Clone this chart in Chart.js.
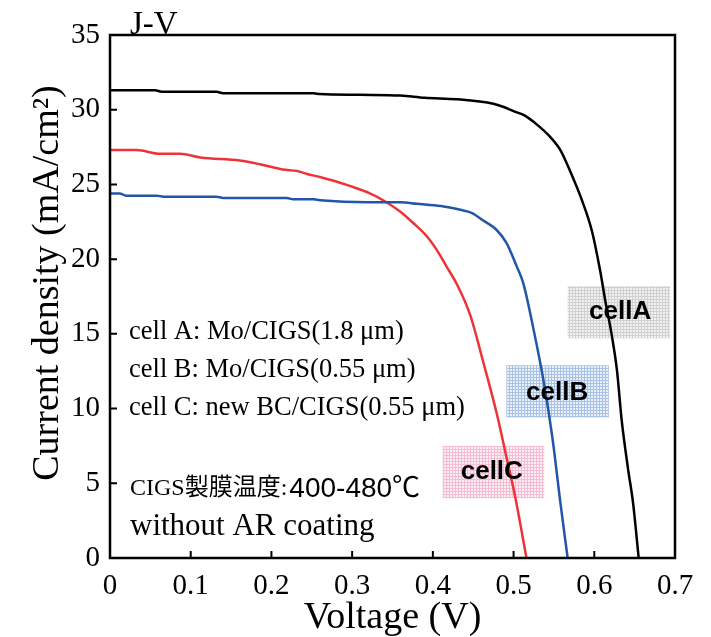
<!DOCTYPE html>
<html>
<head>
<meta charset="utf-8">
<script src="https://cdn.jsdelivr.net/npm/chart.js@4.4.1/dist/chart.umd.min.js"></script>
<style>
  html, body { margin: 0; padding: 0; background: #fff; }
  #wrap { width: 711px; height: 637px; }
</style>
</head>
<body>
<div id="wrap"><canvas id="jv" width="711" height="637"></canvas></div>
<script>
// --- DATA ---
const voltageA = [0, 0.056, 0.064, 0.132, 0.14, 0.252, 0.26, 0.31, 0.36, 0.39, 0.43, 0.475, 0.487, 0.50, 0.514, 0.529, 0.545, 0.558, 0.570, 0.585, 0.597, 0.607, 0.614, 0.622, 0.628, 0.634, 0.642, 0.648, 0.655];
const currentA = [31.3, 31.3, 31.2, 31.2, 31.1, 31.1, 31.05, 31.0, 30.95, 30.8, 30.7, 30.4, 30.2, 29.9, 29.6, 29.0, 28.2, 27.3, 25.9, 23.9, 21.9, 19.3, 17.1, 14.8, 12.6, 9.2, 5.9, 3.7, 0];

const voltageB = [0, 0.012, 0.02, 0.058, 0.066, 0.132, 0.14, 0.219, 0.227, 0.252, 0.26, 0.32, 0.36, 0.38, 0.41, 0.434, 0.448, 0.462, 0.479, 0.491, 0.504, 0.512, 0.524, 0.537, 0.548, 0.558, 0.567];
const currentB = [24.4, 24.4, 24.25, 24.25, 24.18, 24.18, 24.1, 24.1, 24.0, 24.0, 23.94, 23.8, 23.8, 23.7, 23.55, 23.3, 23.1, 22.6, 21.95, 21.1, 19.5, 18.4, 15.5, 11.9, 8.1, 3.7, 0];

const voltageC = [0, 0.033, 0.062, 0.087, 0.112, 0.161, 0.186, 0.214, 0.232, 0.244, 0.26, 0.277, 0.297, 0.322, 0.341, 0.359, 0.376, 0.393, 0.405, 0.417, 0.430, 0.446, 0.463, 0.479, 0.491, 0.502, 0.516];
const currentC = [27.3, 27.3, 27.05, 27.05, 26.8, 26.6, 26.35, 26.0, 25.9, 25.7, 25.5, 25.25, 24.9, 24.4, 23.86, 23.2, 22.4, 21.5, 20.6, 19.5, 18.3, 16.3, 13.0, 9.7, 6.8, 4.1, 0];

const xTicks = [0, 0.1, 0.2, 0.3, 0.4, 0.5, 0.6, 0.7];
const yTicks = [0, 5, 10, 15, 20, 25, 30, 35];

const noteLines = [
  'cell A: Mo/CIGS(1.8 \u03bcm)',
  'cell B: Mo/CIGS(0.55 \u03bcm)',
  'cell C: new BC/CIGS(0.55 \u03bcm)'
];

// cell label boxes, in data units: [x0, x1, yLow, yHigh]
const cellLabels = [
  { text: 'cellA', box: [0.567, 0.694, 14.7, 18.2], at: [0.632, 16.45], line: '#d0d0d0', bg: '#f1f1f1' },
  { text: 'cellB', box: [0.491, 0.618, 9.4, 12.9], at: [0.554, 11.04], line: '#a8c2e6', bg: '#e9f0fa' },
  { text: 'cellC', box: [0.412, 0.538, 4.0, 7.5], at: [0.473, 5.76], line: '#f4bdd4', bg: '#fdeef4' }
];

const SERIF = "'Liberation Serif', 'Times New Roman', serif";
const SANS = "'Liberation Sans', Arial, sans-serif";

function toPoints(xs, ys) {
  return xs.map((x, i) => ({ x: x, y: ys[i] }));
}

function gridPattern(ctx, line, bg) {
  const tile = document.createElement('canvas');
  tile.width = 3; tile.height = 3;
  const t = tile.getContext('2d');
  t.fillStyle = bg;
  t.fillRect(0, 0, 3, 3);
  t.fillStyle = line;
  t.fillRect(2, 0, 1, 3);
  t.fillRect(0, 2, 3, 1);
  return ctx.createPattern(tile, 'repeat');
}

// --- PLUGIN: frame, inward ticks, boxes and notes ---
const decorPlugin = {
  id: 'decor',
  beforeDatasetsDraw(chart) {
    const { ctx, scales: { x, y } } = chart;
    ctx.save();
    cellLabels.forEach(c => {
      const x0 = x.getPixelForValue(c.box[0]);
      const x1 = x.getPixelForValue(c.box[1]);
      const y0 = y.getPixelForValue(c.box[3]);
      const y1 = y.getPixelForValue(c.box[2]);
      ctx.fillStyle = gridPattern(ctx, c.line, c.bg);
      ctx.fillRect(x0, y0, x1 - x0, y1 - y0);
    });
    ctx.restore();
  },
  afterDatasetsDraw(chart) {
    const { ctx, chartArea: a, scales: { x, y } } = chart;
    ctx.save();

    // labels on boxes
    ctx.fillStyle = '#000';
    ctx.font = 'bold 26px ' + SANS;
    ctx.textAlign = 'center';
    ctx.textBaseline = 'middle';
    cellLabels.forEach(c => {
      ctx.fillText(c.text, x.getPixelForValue(c.at[0]), y.getPixelForValue(c.at[1]));
    });

    // frame
    ctx.strokeStyle = '#000';
    ctx.lineWidth = 2.5;
    ctx.strokeRect(a.left, a.top, a.right - a.left, a.bottom - a.top);

    // inward ticks
    ctx.lineWidth = 2;
    ctx.beginPath();
    xTicks.slice(1, -1).forEach(v => {
      const px = x.getPixelForValue(v);
      ctx.moveTo(px, a.bottom);
      ctx.lineTo(px, a.bottom - 7);
    });
    yTicks.slice(1, -1).forEach(v => {
      const py = y.getPixelForValue(v);
      ctx.moveTo(a.left, py);
      ctx.lineTo(a.left + 7, py);
    });
    ctx.stroke();

    // y axis title (sits a little above the plot centre in the original)
    ctx.save();
    ctx.translate(48, 283);
    ctx.rotate(-Math.PI / 2);
    ctx.font = '38px ' + SERIF;
    ctx.fillText('Current density (mA/cm\u00b2)', 0, 0);
    ctx.restore();

    // text notes
    ctx.textAlign = 'left';
    ctx.textBaseline = 'alphabetic';
    ctx.font = '33px ' + SERIF;
    ctx.fillText('J-V', 130, 34);

    ctx.textBaseline = 'middle';
    ctx.font = '26.5px ' + SERIF;
    noteLines.forEach((t, i) => ctx.fillText(t, 129, 332 + i * 38));

    ctx.font = "24px 'Liberation Serif', 'Noto Sans CJK JP', serif";
    const head = 'CIGS\u88fd\u819c\u6e29\u5ea6:';
    ctx.fillText(head, 130, 489);
    const w = ctx.measureText(head).width;
    ctx.font = "28px 'Liberation Sans', 'Noto Sans CJK JP', sans-serif";
    ctx.fillText('400-480\u2103', 132 + w, 489);

    ctx.font = '31px ' + SERIF;
    ctx.fillText('without AR coating', 130, 527);
    ctx.restore();
  }
};

// --- CHART ---
const ctx = document.getElementById('jv');
new Chart(ctx, {
  type: 'scatter',
  data: {
    datasets: [
      { label: 'cellA', data: toPoints(voltageA, currentA), borderColor: '#000000' },
      { label: 'cellB', data: toPoints(voltageB, currentB), borderColor: '#2355a8' },
      { label: 'cellC', data: toPoints(voltageC, currentC), borderColor: '#ee3338' }
    ].map(d => Object.assign(d, {
      showLine: true,
      pointRadius: 0,
      borderWidth: 2.5,
      cubicInterpolationMode: 'monotone',
      fill: false
    }))
  },
  options: {
    responsive: false,
    animation: false,
    layout: { padding: { top: 35, right: 36, left: 0, bottom: 0 } },
    plugins: { legend: { display: false }, tooltip: { enabled: false } },
    scales: {
      x: {
        type: 'linear',
        min: 0, max: 0.7,
        afterFit: s => { s.height = 79; },
        afterBuildTicks: s => { s.ticks = xTicks.map(v => ({ value: v })); },
        grid: { display: false, drawTicks: false },
        border: { display: false },
        ticks: {
          color: '#000',
          font: { family: SERIF, size: 29 },
          padding: 11,
          maxRotation: 0,
          callback: v => (v === 0 ? '0' : v.toFixed(1))
        },
        title: {
          display: true,
          text: 'Voltage (V)',
          color: '#000',
          font: { family: SERIF, size: 38, lineHeight: 1 },
          padding: 0
        }
      },
      y: {
        min: 0, max: 35,
        afterFit: s => { s.width = 110; },
        afterBuildTicks: s => { s.ticks = yTicks.map(v => ({ value: v })); },
        grid: { display: false, drawTicks: false },
        border: { display: false },
        ticks: {
          color: '#000',
          font: { family: SERIF, size: 29 },
          padding: 10
        }
      }
    }
  },
  plugins: [decorPlugin]
});
</script>
</body>
</html>
